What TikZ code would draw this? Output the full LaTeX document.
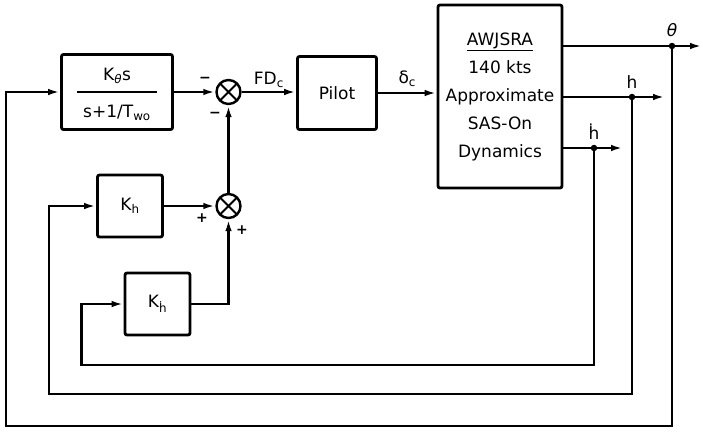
\documentclass[tikz,border=0pt]{standalone}
\usepackage{fontspec}
\setmainfont{DejaVu Sans}
\usetikzlibrary{arrows.meta, positioning, calc}
\newcommand{\hdot}{h^^^^0307}
\tikzset{
    font=\fontsize{17}{28}\selectfont,
    >={Latex[length=12pt,width=6.5pt]},
    % Shapes
    blk/.style={rectangle, draw, line width=2.8pt, rounded corners=2pt,
                align=center, inner sep=0pt},
    sumj/.style={circle, draw, line width=2.4pt, minimum size=24pt, inner sep=0pt,
                 path picture={
                   \draw[line width=1.8pt] (path picture bounding box.north west) -- (path picture bounding box.south east)
                                           (path picture bounding box.north east) -- (path picture bounding box.south west);}},
    junc/.style={circle, fill, inner sep=0pt, minimum size=6.5pt},
    % Flow & Labels
    flow/.style={->, line width=2.5pt},
    lbl/.style={inner sep=1pt},
    sgn/.style={inner sep=0pt, font=\fontsize{14}{14}\selectfont\bfseries}
}

\begin{document}
\begin{tikzpicture}[x=1pt, y=-1pt]
\useasboundingbox (0,0) rectangle (703,432);

\node[blk, minimum width=111pt, minimum height=75pt] (ktheta) at (117,92)
  {\renewcommand{\arraystretch}{1.25}\setlength{\arrayrulewidth}{2pt}%
   \begin{tabular}{c}K\textsubscript{\textit{θ}}s\\\hline s+1/T\textsubscript{wo}\end{tabular}};
\node[sumj] (sum1) at (228.5,92) {};
\node[blk, minimum width=79pt, minimum height=73pt] (pilot) at (337,93) {Pilot};
\node[blk, minimum width=124pt, minimum height=183pt] (plant) at (500,96.5)
  {\underline{AWJSRA}\\140 kts\\Approximate\\SAS-On\\Dynamics};

\node[blk, minimum width=65pt, minimum height=62pt] (kh) at (130,206) {K\textsubscript{h}};
\node[sumj] (sum2) at (228.5,206) {};
\node[blk, minimum width=65pt, minimum height=62pt] (khd) at (157.5,304) {K\textsubscript{\hdot}};

% output taps
\node[junc] (jth) at (672,46) {};
\node[junc] (jh) at (632,97) {};
\node[junc] (jhd) at (594,148) {};
\coordinate (thout) at (702,46);
\coordinate (hout) at (665,97);
\coordinate (hdout) at (623,148);

\node[lbl, above=5pt of jth] {\textit{θ}};
\node[lbl, above=4pt of jh] {h};
\node[lbl, above=4pt of jhd] {\hdot};

% forward path
\draw[flow] (ktheta.east) -- (sum1.west);
\draw[flow] (sum1.east) -- node[lbl, above=2pt] {FD\textsubscript{c}} (sum1.east -| pilot.west);
\draw[flow] (pilot.east) -- node[lbl, above=4pt] {δ\textsubscript{c}} (pilot.east -| plant.west);

\draw[flow] (plant.east |- jth) -- (thout);
\draw[flow] (plant.east |- jh) -- (hout);
\draw[flow] (plant.east |- jhd) -- (hdout);

% inner loops
\draw[flow] (kh.east) -- (sum2.west);
\draw[flow] (khd.east) -| (sum2.south);
\draw[flow] (sum2.north) -- (sum1.south);

% feedback
\draw[flow] (jhd) -- ++(0,217) -| ([xshift=-42pt]khd.west) -- (khd.west);
\draw[flow] (jh) -- ++(0,297) -| ([xshift=-47pt]kh.west) -- (kh.west);
\draw[flow] (jth) -- ++(0,380) -| ([xshift=-54pt]ktheta.west) -- (ktheta.west);

% signs
\node[sgn] at (205,80) {−};
\node[sgn] at (215,115) {−};
\node[sgn] at (202,218) {+};
\node[sgn] at (242,230) {+};

\end{tikzpicture}
\end{document}
